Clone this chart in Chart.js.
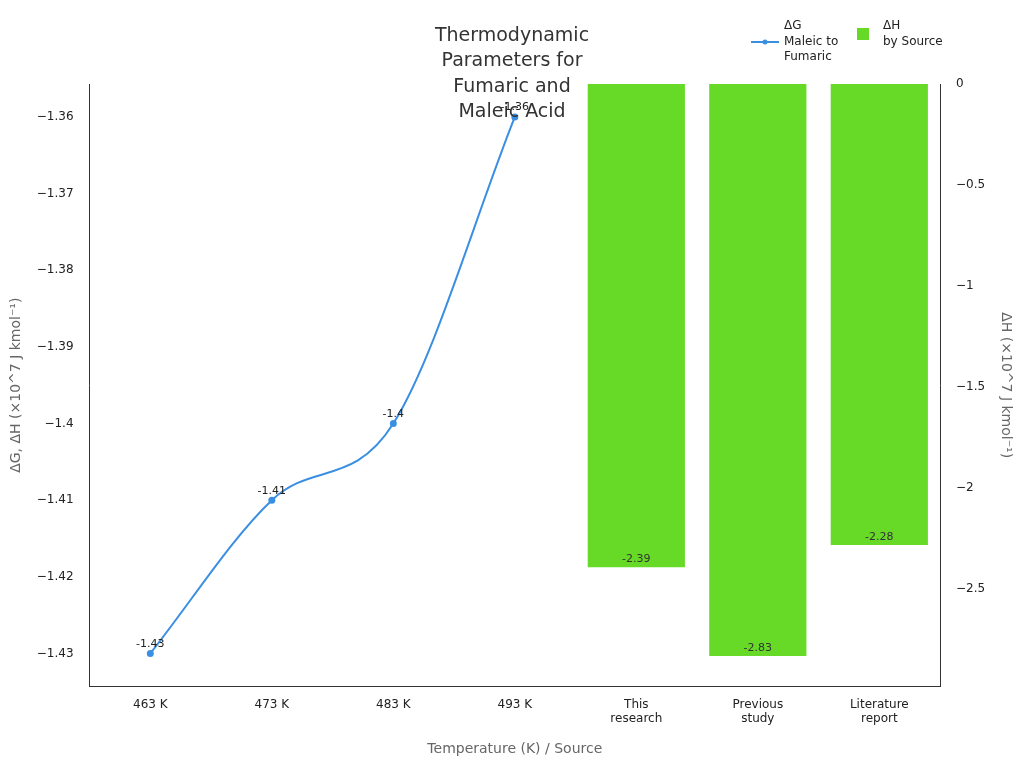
<!DOCTYPE html>
<html><head><meta charset="utf-8">
<script src="https://cdn.jsdelivr.net/npm/chart.js@4/dist/chart.umd.min.js"></script>
<style>html,body{margin:0;padding:0;background:#fff}#w{width:1024px;height:768px}</style>
</head><body><div id="w"><canvas id="c"></canvas></div>
<script>
const categories = [["463 K"],["473 K"],["483 K"],["493 K"],["This","research"],["Previous","study"],["Literature","report"]];
const dGValues = [-1.43,-1.41,-1.40,-1.36,null,null,null];
const dHValues = [null,null,null,null,-2.39,-2.83,-2.28];
const leftTicks = [-1.43,-1.42,-1.41,-1.40,-1.39,-1.38,-1.37,-1.36];
const rightTicks = [-2.5,-2,-1.5,-1,-0.5,0];
const lineColor = '#3a8fe3', barColor = '#66da26';
const fam = 'DejaVu Sans';
const fmt = v => { let s = String(Math.round(v*1000)/1000); return s.replace('-', '\u2212'); };

const overlay = {
  id:'overlay',
  afterDatasetsDraw(chart){
    const ctx = chart.ctx;
    ctx.save();
    ctx.font = '11px '+fam; ctx.fillStyle = '#222'; ctx.textAlign='center';
    const m0 = chart.getDatasetMeta(0);
    m0.data.forEach((p,i)=>{ if(dGValues[i]==null) return; ctx.textBaseline='bottom'; ctx.fillText(String(dGValues[i]),p.x,p.y-4); });
    const m1 = chart.getDatasetMeta(1);
    ctx.fillStyle='#333';
    m1.data.forEach((b,i)=>{ if(dHValues[i]==null) return; ctx.textBaseline='bottom'; ctx.fillText(String(dHValues[i]),b.x,b.y-2); });
    // title
    ctx.font = '19px '+fam; ctx.fillStyle='#333'; ctx.textBaseline='middle';
    ['Thermodynamic','Parameters for','Fumaric and','Maleic Acid'].forEach((t,i)=>ctx.fillText(t,512,36+i*25.5));
    // legend
    ctx.font='12px '+fam; ctx.fillStyle='#222'; ctx.textAlign='left'; ctx.textBaseline='middle';
    ctx.strokeStyle=lineColor; ctx.lineWidth=2; ctx.beginPath(); ctx.moveTo(751,42); ctx.lineTo(779,42); ctx.stroke();
    ctx.fillStyle=lineColor; ctx.beginPath(); ctx.arc(765,42,2.5,0,Math.PI*2); ctx.fill();
    ctx.fillStyle='#222';
    ['\u0394G','Maleic to','Fumaric'].forEach((t,i)=>ctx.fillText(t,784,26+i*15.5));
    ctx.fillStyle=barColor; ctx.fillRect(857,28,12,12);
    ctx.fillStyle='#222';
    ['\u0394H','by Source'].forEach((t,i)=>ctx.fillText(t,883,26+i*15.5));
    ctx.restore();
  }
};

new Chart(document.getElementById('c'),{
  data:{labels:categories,datasets:[
    {type:'line',data:dGValues,yAxisID:'y',borderColor:lineColor,backgroundColor:lineColor,borderWidth:2,pointRadius:2.5,tension:0.4,cubicInterpolationMode:'monotone',spanGaps:false,order:0},
    {type:'bar',data:dHValues,yAxisID:'y2',backgroundColor:barColor,barPercentage:0.8,categoryPercentage:1.0,order:1}
  ]},
  options:{responsive:true,maintainAspectRatio:false,animation:false,
    layout:{padding:{top:84,left:4,right:6,bottom:6}},
    plugins:{legend:{display:false},title:{display:false},tooltip:{enabled:false}},
    scales:{
      x:{grid:{display:false},border:{color:'#333'},ticks:{color:'#222',font:{family:fam,size:12},maxRotation:0},
         title:{display:true,text:'Temperature (K) / Source',color:'#666',font:{family:fam,size:14},padding:{top:12}}},
      y:{position:'left',min:-1.4343,max:-1.3557,grid:{display:false},border:{color:'#333'},
         afterBuildTicks:a=>{a.ticks=leftTicks.map(v=>({value:v}));},
         ticks:{color:'#222',font:{family:fam,size:12},callback:v=>fmt(v),padding:8},
         title:{display:true,text:'\u0394G, \u0394H (\u00d710^7 J kmol\u207b\u00b9)',color:'#666',font:{family:fam,size:14}}},
      y2:{position:'right',min:-2.98,max:0,grid:{display:false},border:{color:'#333'},
         afterBuildTicks:a=>{a.ticks=rightTicks.map(v=>({value:v}));},
         ticks:{color:'#222',font:{family:fam,size:12},callback:v=>fmt(v),padding:8},
         title:{display:true,text:'\u0394H (\u00d710^7 J kmol\u207b\u00b9)',color:'#666',font:{family:fam,size:14}}}
    }},
  plugins:[overlay]
});
</script></body></html>
